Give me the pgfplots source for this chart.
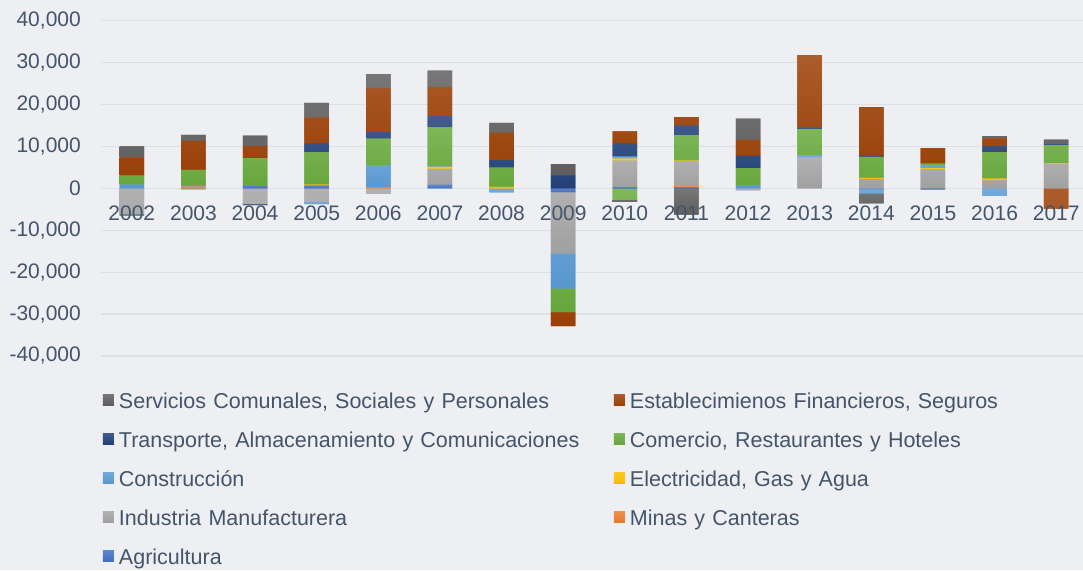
\documentclass[border=0pt]{standalone}
\usepackage{fontspec}
\setmainfont{Liberation Sans}
\usepackage{pgfplots}
\usepackage{pgfplotstable}
\pgfplotsset{compat=1.18}
\definecolor{bgc}{HTML}{EDEFF3}
\definecolor{gridc}{HTML}{DCE0E7}
\definecolor{txtc}{HTML}{44546A}
\definecolor{cA}{HTML}{4472C4}
\definecolor{cM}{HTML}{ED7D31}
\definecolor{cI}{HTML}{A5A5A5}
\definecolor{cE}{HTML}{FFC000}
\definecolor{cC}{HTML}{5B9BD5}
\definecolor{cCo}{HTML}{6AAB3E}
\definecolor{cT}{HTML}{23427A}
\definecolor{cF}{HTML}{9E4208}
\definecolor{cS}{HTML}{616161}

\pgfplotstableread{
x A M I E C Co T F S
0 0 0 0 0 880 2140 0 4360 2620
1 0 350 250 0 0 3810 0 6900 1430
2 500 0 0 0 0 6680 0 2860 2550
3 640 0 0 250 0 7690 2150 6130 3500
4 0 250 0 0 5300 6290 1500 10480 3400
5 800 0 3810 480 250 9220 2620 6900 4000
6 0 0 0 350 0 4600 1800 6500 2380
7 0 0 0 0 0 0 3100 0 2690
8 250 0 6350 480 480 0 3180 2860 0
9 250 250 5950 150 0 6070 2310 1980 0
10 0 0 0 0 700 4120 2940 3810 5080
11 0 0 7380 0 480 6270 320 17290 0
12 0 0 2200 300 0 5000 240 11600 0
13 0 0 4600 240 630 400 0 3730 0
14 0 0 1900 400 0 6340 1360 1900 550
15 0 0 5880 150 0 4290 170 0 1120
}\pos

\pgfplotstableread{
x A M I E C Co T F S
0 0 0 -6200 0 0 0 -250 0 0
1 0 0 0 0 -250 0 0 0 0
2 0 0 -3750 0 0 0 -250 0 0
3 0 0 -3300 0 -480 0 0 0 0
4 0 0 -1300 0 0 0 0 0 0
5 0 0 0 0 0 0 0 0 0
6 0 0 0 0 -1000 0 0 0 0
7 -900 0 -14630 0 -8350 -5650 0 -3340 0
8 0 0 0 0 0 -2700 0 0 -550
9 0 0 0 0 0 0 0 0 -6300
10 0 0 -500 0 0 0 0 0 0
11 0 0 0 0 0 0 0 0 0
12 -200 0 0 0 -1000 0 0 0 -2400
13 0 0 0 0 0 0 -250 0 0
14 0 0 0 0 -1830 0 0 0 0
15 0 0 0 0 0 0 0 -4840 0
}\neg

\pgfplotsset{base/.style={
  at={(101pt,214pt)}, anchor=south west,
  scale only axis, width=982pt, height=335.4pt,
  xmin=-0.5, xmax=15.435, ymin=-40000, ymax=40000,
  ybar stacked, bar width=24.5pt,
  axis line style={draw=none}, major tick length=0pt,
  ytick={-40000,-30000,...,40000},
  scaled y ticks=false,
},
sh/.style={draw=none, top color=#1!86!white, bottom color=#1!97!black, fill=#1}}

\begin{document}
\begin{tikzpicture}
\fill[bgc] (0,0) rectangle (1083pt,570pt);
\begin{axis}[base,
  ymajorgrids, grid style={gridc, line width=1.2pt},
  yticklabels={}, xtick=\empty]
\addplot[sh=cA] table[x=x,y=A]{\neg};
\addplot[sh=cM] table[x=x,y=M]{\neg};
\addplot[sh=cI] table[x=x,y=I]{\neg};
\addplot[sh=cE] table[x=x,y=E]{\neg};
\addplot[sh=cC] table[x=x,y=C]{\neg};
\addplot[sh=cCo] table[x=x,y=Co]{\neg};
\addplot[sh=cT] table[x=x,y=T]{\neg};
\addplot[sh=cF] table[x=x,y=F]{\neg};
\addplot[sh=cS] table[x=x,y=S]{\neg};
\end{axis}
\begin{axis}[base,
  /pgf/number format/assume math mode=true,
  /pgf/number format/1000 sep={,},
  ticklabel style={font=\fontsize{21}{24}\selectfont, text=txtc},
  yticklabel style={anchor=east, inner sep=0pt, xshift=-20pt},
  xtick={0,...,15},
  xticklabels={2002,2003,2004,2005,2006,2007,2008,2009,2010,2011,2012,2013,2014,2015,2016,2017},
  xticklabel style={anchor=north, inner sep=0pt, yshift=150pt},
  reverse legend,
  legend columns=2,
  legend image code/.code={\fill[#1] (0pt,-2pt) rectangle (11pt,9pt);},
  legend style={at={(0.002,-0.11)}, anchor=north west, draw=none, fill=none,
    inner sep=0pt, outer sep=0pt, font=\fontsize{21.5}{24}\selectfont, text=txtc,
    row sep=18.5pt,
    nodes={inner sep=0pt, text height=15.5pt, text depth=5pt, text width=490pt, align=left},
    /tikz/every odd column/.append style={column sep=5pt},
    /tikz/every even column/.append style={column sep=5pt}},
  ]
\addplot[sh=cA] table[x=x,y=A]{\pos};
\addlegendentry{Agricultura}
\addplot[sh=cM] table[x=x,y=M]{\pos};
\addlegendentry{Minas y Canteras}
\addplot[sh=cI] table[x=x,y=I]{\pos};
\addlegendentry{Industria Manufacturera}
\addplot[sh=cE] table[x=x,y=E]{\pos};
\addlegendentry{Electricidad, Gas y Agua}
\addplot[sh=cC] table[x=x,y=C]{\pos};
\addlegendentry{Construcción}
\addplot[sh=cCo] table[x=x,y=Co]{\pos};
\addlegendentry{Comercio, Restaurantes y Hoteles}
\addplot[sh=cT] table[x=x,y=T]{\pos};
\addlegendentry{Transporte, Almacenamiento y Comunicaciones}
\addplot[sh=cF] table[x=x,y=F]{\pos};
\addlegendentry{Establecimienos Financieros, Seguros}
\addplot[sh=cS] table[x=x,y=S]{\pos};
\addlegendentry{Servicios Comunales, Sociales y Personales}
\end{axis}
\pgfresetboundingbox
\path[use as bounding box] (0,0) rectangle (1083pt,570pt);
\end{tikzpicture}
\end{document}
